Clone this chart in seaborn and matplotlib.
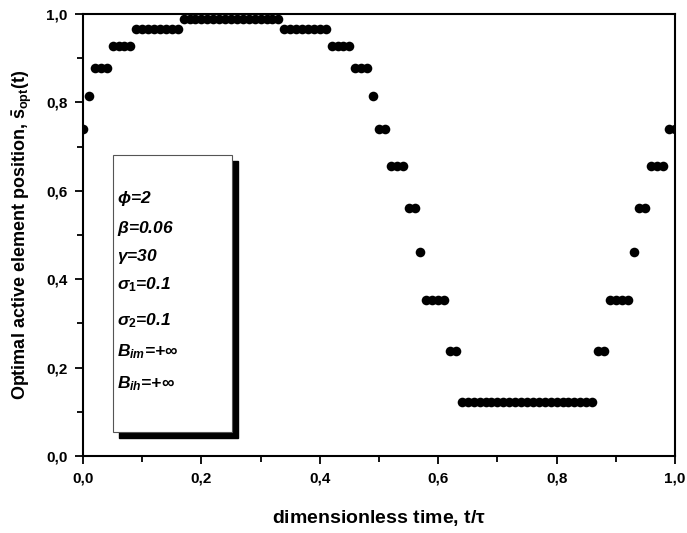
import numpy as np
import pandas as pd
import matplotlib
matplotlib.use("Agg")
import matplotlib.pyplot as plt
import seaborn as sns
from matplotlib.patches import Rectangle
from matplotlib.ticker import MultipleLocator, FuncFormatter

# step levels (left to right) and how many samples sit on each
levels = [0.740, 0.815, 0.878, 0.928, 0.965, 0.989, 0.965, 0.928, 0.878, 0.815,
          0.740, 0.657, 0.562, 0.461, 0.352, 0.238, 0.122, 0.238, 0.352, 0.461,
          0.562, 0.657, 0.740]
counts = [1, 1, 3, 4, 8, 17, 8, 4, 3, 1,
          2, 3, 2, 1, 4, 2, 23, 2, 4, 1,
          2, 3, 2]
# samples every 0.01 of t/tau
t_start, t_end, n_samples = 0.0, 1.0, 101

params = [r"$\phi$=2", r"$\beta$=0.06", r"$\gamma$=30", r"$\sigma_1$=0.1",
          r"$\sigma_2$=0.1", r"$B_{im}$=+∞", r"$B_{ih}$=+∞"]

df = pd.DataFrame({"t": np.linspace(t_start, t_end, n_samples),
                   "s": np.repeat(levels, counts)})

sns.set_style("ticks")
plt.rcParams["font.family"] = ["Liberation Sans", "DejaVu Sans"]
plt.rcParams["font.weight"] = "bold"
plt.rcParams["mathtext.fontset"] = "custom"
plt.rcParams["mathtext.rm"] = "Liberation Sans:bold"
plt.rcParams["mathtext.it"] = "Liberation Sans:bold:italic"
plt.rcParams["mathtext.bf"] = "Liberation Sans:bold"
for key in ["text.color", "axes.labelcolor", "xtick.color", "ytick.color", "axes.edgecolor"]:
    plt.rcParams[key] = "black"

fig, ax = plt.subplots(figsize=(6.87, 5.33), dpi=100)
fig.subplots_adjust(left=83/687, right=675/687, top=1-14/533, bottom=1-456/533)

sns.scatterplot(data=df, x="t", y="s", ax=ax, color="black", s=48,
                edgecolor="black", linewidth=0, zorder=3)

ax.set_xlim(0, 1)
ax.set_ylim(0, 1)
ax.xaxis.set_major_locator(MultipleLocator(0.2))
ax.yaxis.set_major_locator(MultipleLocator(0.2))
ax.xaxis.set_minor_locator(MultipleLocator(0.1))
ax.yaxis.set_minor_locator(MultipleLocator(0.1))
fmt = FuncFormatter(lambda v, p: f"{v:.1f}".replace(".", ","))
ax.xaxis.set_major_formatter(fmt)
ax.yaxis.set_major_formatter(fmt)
ax.tick_params(which="major", direction="out", length=6, width=1.3,
               labelsize=11, pad=5, colors="black")
ax.tick_params(which="minor", direction="out", length=4, width=1.3, colors="black")
for lab in ax.get_xticklabels() + ax.get_yticklabels():
    lab.set_fontweight("bold")
for sp in ax.spines.values():
    sp.set_linewidth(1.5)
    sp.set_color("black")
    sp.set_visible(True)

ax.set_xlabel(r"dimensionless time, t/$\mathrm{\tau}$", fontsize=14,
              fontweight="bold", labelpad=16)
ax.set_ylabel(r"Optimal active element position, $\bar{\mathrm{s}}_{\mathrm{opt}}\mathrm{(t)}$",
              fontsize=13, fontweight="bold", labelpad=8)

# parameter box with drop shadow
bx0, bx1 = (113-83)/592, (232-83)/592
by0, by1 = (456-432)/442, (456-155)/442
dx, dy = 6/592, 6/442
ax.add_patch(Rectangle((bx0+dx, by0-dy), bx1-bx0, by1-by0, transform=ax.transAxes,
                       facecolor="black", edgecolor="black", zorder=4))
ax.add_patch(Rectangle((bx0, by0), bx1-bx0, by1-by0, transform=ax.transAxes,
                       facecolor="white", edgecolor="#555555", linewidth=0.8, zorder=5))
ys = [199, 228, 256, 285, 321, 352, 384]
for txt, yp in zip(params, ys):
    ax.text((117-83)/592, (456-yp)/442, txt, transform=ax.transAxes,
            fontsize=12.5, fontweight="bold", style="italic", va="center",
            ha="left", zorder=6)

fig.savefig("out.png", dpi=100)
